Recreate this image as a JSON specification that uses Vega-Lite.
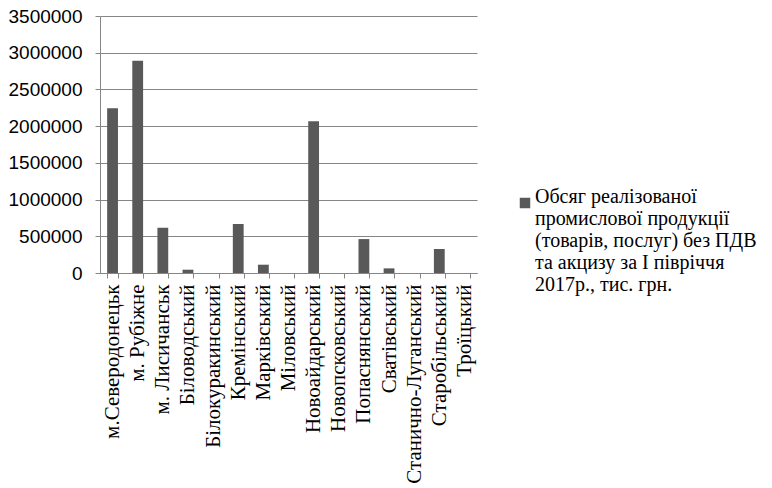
{
  "$schema": "https://vega.github.io/schema/vega-lite/v6.json",
  "width": 377,
  "height": 257,
  "autosize": "none",
  "padding": {"left": 100, "top": 16, "right": 295, "bottom": 215},
  "background": "white",
  "data": {
    "values": [
      {"district": "м.Северодонецьк", "value": 2245000, "series": "Обсяг реалізованої\nпромислової продукції\n(товарів, послуг) без ПДВ\nта акцизу  за І півріччя\n2017р., тис. грн."},
      {"district": "м. Рубіжне", "value": 2890000, "series": "Обсяг реалізованої\nпромислової продукції\n(товарів, послуг) без ПДВ\nта акцизу  за І півріччя\n2017р., тис. грн."},
      {"district": "м. Лисичанськ", "value": 616000, "series": "Обсяг реалізованої\nпромислової продукції\n(товарів, послуг) без ПДВ\nта акцизу  за І півріччя\n2017р., тис. грн."},
      {"district": "Біловодський", "value": 45000, "series": "Обсяг реалізованої\nпромислової продукції\n(товарів, послуг) без ПДВ\nта акцизу  за І півріччя\n2017р., тис. грн."},
      {"district": "Білокуракинський", "value": 0, "series": "Обсяг реалізованої\nпромислової продукції\n(товарів, послуг) без ПДВ\nта акцизу  за І півріччя\n2017р., тис. грн."},
      {"district": "Кремінський", "value": 667000, "series": "Обсяг реалізованої\nпромислової продукції\n(товарів, послуг) без ПДВ\nта акцизу  за І півріччя\n2017р., тис. грн."},
      {"district": "Марківський", "value": 113000, "series": "Обсяг реалізованої\nпромислової продукції\n(товарів, послуг) без ПДВ\nта акцизу  за І півріччя\n2017р., тис. грн."},
      {"district": "Міловський", "value": 0, "series": "Обсяг реалізованої\nпромислової продукції\n(товарів, послуг) без ПДВ\nта акцизу  за І півріччя\n2017р., тис. грн."},
      {"district": "Новоайдарський", "value": 2068000, "series": "Обсяг реалізованої\nпромислової продукції\n(товарів, послуг) без ПДВ\nта акцизу  за І півріччя\n2017р., тис. грн."},
      {"district": "Новопсковський", "value": 0, "series": "Обсяг реалізованої\nпромислової продукції\n(товарів, послуг) без ПДВ\nта акцизу  за І півріччя\n2017р., тис. грн."},
      {"district": "Попаснянський", "value": 462000, "series": "Обсяг реалізованої\nпромислової продукції\n(товарів, послуг) без ПДВ\nта акцизу  за І півріччя\n2017р., тис. грн."},
      {"district": "Сватівський", "value": 63000, "series": "Обсяг реалізованої\nпромислової продукції\n(товарів, послуг) без ПДВ\nта акцизу  за І півріччя\n2017р., тис. грн."},
      {"district": "Станично-Луганський", "value": 0, "series": "Обсяг реалізованої\nпромислової продукції\n(товарів, послуг) без ПДВ\nта акцизу  за І півріччя\n2017р., тис. грн."},
      {"district": "Старобільський", "value": 327000, "series": "Обсяг реалізованої\nпромислової продукції\n(товарів, послуг) без ПДВ\nта акцизу  за І півріччя\n2017р., тис. грн."},
      {"district": "Троїцький", "value": 0, "series": "Обсяг реалізованої\nпромислової продукції\n(товарів, послуг) без ПДВ\nта акцизу  за І півріччя\n2017р., тис. грн."}
    ]
  },
  "mark": {"type": "bar"},
  "encoding": {
    "x": {
      "field": "district",
      "type": "nominal",
      "sort": null,
      "scale": {"paddingInner": 0.57, "paddingOuter": 0.285},
      "axis": {
        "title": null,
        "labelAngle": -90,
        "labelAlign": "right",
        "labelBaseline": "middle",
        "labelFont": "Times New Roman",
        "labelFontSize": 21,
        "labelColor": "#000000",
        "labelPadding": 6,
        "labelLimit": 0,
        "domainColor": "#868686",
        "tickColor": "#868686",
        "tickSize": 5,
        "tickBand": "extent",
        "grid": false
      }
    },
    "y": {
      "field": "value",
      "type": "quantitative",
      "scale": {"domain": [0, 3500000], "nice": false},
      "axis": {
        "title": null,
        "values": [0, 500000, 1000000, 1500000, 2000000, 2500000, 3000000, 3500000],
        "format": "d",
        "labelFont": "Liberation Sans, Arial, sans-serif",
        "labelFontSize": 19,
        "labelColor": "#000000",
        "labelPadding": 13,
        "grid": true,
        "gridColor": "#868686",
        "domainColor": "#868686",
        "tickColor": "#868686",
        "tickSize": 5
      }
    },
    "color": {
      "field": "series",
      "type": "nominal",
      "scale": {"range": ["#595959"]},
      "legend": {
        "title": null,
        "orient": "none",
        "legendX": 415,
        "legendY": 177,
        "symbolType": "square",
        "symbolSize": 110,
        "symbolStrokeWidth": 0,
        "labelFont": "Times New Roman",
        "labelFontSize": 20,
        "labelColor": "#000000",
        "labelLimit": 0,
        "labelOffset": 0,
        "labelBaseline": "alphabetic",
        "labelExpr": "split(datum.label, '\\n')"
      }
    }
  },
  "config": {"view": {"stroke": null}}
}
